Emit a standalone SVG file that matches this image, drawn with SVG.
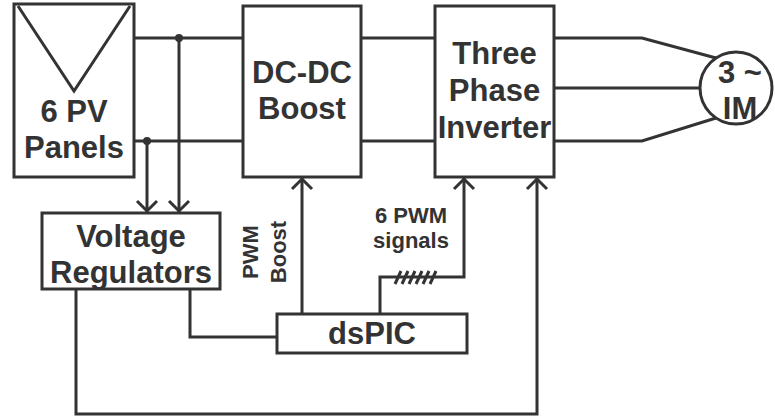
<svg xmlns="http://www.w3.org/2000/svg" width="775" height="417" viewBox="0 0 775 417">
<style>
.box{fill:#fff;stroke:#333;stroke-width:3}
.w{fill:none;stroke:#333;stroke-width:3}
.t{font-family:"Liberation Sans",Arial,sans-serif;font-weight:bold;fill:#333;text-anchor:middle;font-size:31px}
.s{font-size:22px}
.r{font-size:22px}
</style>
<defs>
<marker id="arr" viewBox="-14 -12 16 24" markerWidth="16" markerHeight="24" refX="0" refY="0" orient="auto" markerUnits="userSpaceOnUse">
<path d="M-11,-10 L-1,0 L-11,10" fill="none" stroke="#333" stroke-width="3"/>
</marker>
</defs>
<g id="connectors">
<path class="w" d="M134,38 H243 M134,141 H243"/>
<path class="w" d="M361,38 H435 M361,141 H435"/>
<path class="w" d="M554,38 H642 L716,58 M554,88 H700 M554,141 H642 L716,118"/>
<path class="w" d="M179,38 V212" marker-end="url(#arr)"/>
<path class="w" d="M147,141 V212" marker-end="url(#arr)"/>
<circle cx="179" cy="38" r="4" fill="#333"/>
<circle cx="147" cy="141" r="4" fill="#333"/>
<path class="w" d="M302,314 V178" marker-end="url(#arr)"/>
<path class="w" d="M380,314 V277 H464 V178" marker-end="url(#arr)"/>
<path class="w" d="M76,289 V414 H537 V178" marker-end="url(#arr)"/>
<path class="w" d="M190,289 V337 H277"/>
<path class="w" stroke-width="2.5" d="M395,284 L401,271 M402,284 L408,271 M409,284 L415,271 M416,284 L422,271 M423,284 L429,271 M430,284 L436,271"/>
</g>
<g id="pv">
<rect class="box" x="14" y="4" width="120" height="173"/>
<path class="w" d="M18,6 L74,91 L130,6"/>
<text class="t" x="74" y="122">6 PV</text>
<text class="t" x="74" y="158">Panels</text>
</g>
<g id="boost">
<rect class="box" x="243" y="6" width="118" height="171"/>
<text class="t" x="302" y="83">DC-DC</text>
<text class="t" x="302" y="119">Boost</text>
</g>
<g id="inverter">
<rect class="box" x="435" y="6" width="119" height="171"/>
<text class="t" x="494.5" y="64">Three</text>
<text class="t" x="494.5" y="101">Phase</text>
<text class="t" x="494.5" y="138">Inverter</text>
</g>
<g id="motor">
<circle class="box" cx="736" cy="88" r="36"/>
<text class="t" x="740" y="83">3 ~</text>
<text class="t" x="740" y="119">IM</text>
</g>
<g id="regulators">
<rect class="box" x="42" y="213" width="178" height="76"/>
<text class="t" x="131" y="247">Voltage</text>
<text class="t" x="131" y="283">Regulators</text>
</g>
<g id="dspic">
<rect class="box" x="277" y="314" width="190" height="39"/>
<text class="t" x="372" y="344">dsPIC</text>
</g>
<g id="labels">
<text class="t r" transform="translate(258,252) rotate(-90)">PWM</text>
<text class="t r" transform="translate(286,252) rotate(-90)">Boost</text>
<text class="t s" x="411" y="223">6 PWM</text>
<text class="t s" x="411" y="248">signals</text>
</g>
</svg>
